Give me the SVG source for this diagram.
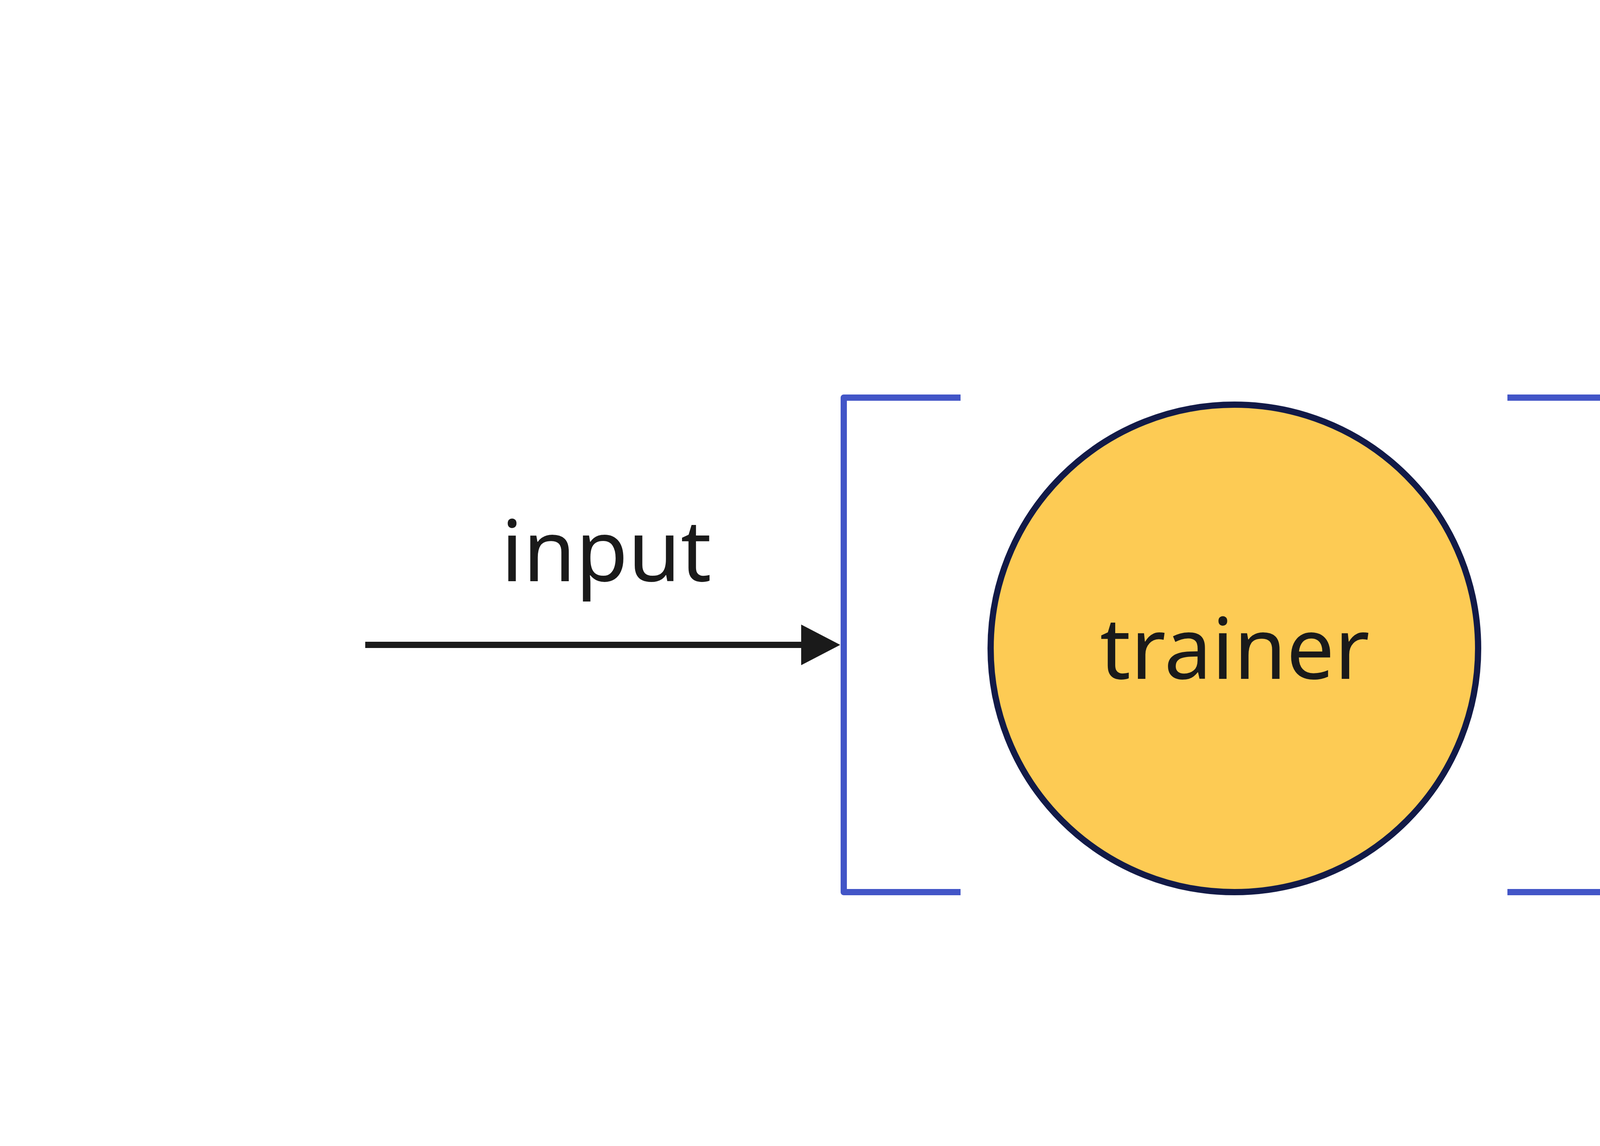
<svg xmlns="http://www.w3.org/2000/svg" width="6184" height="2934" viewBox="0 0 6184 2934">
<style>
.lbl{font-family:"Noto Sans","Open Sans","DejaVu Sans",sans-serif;font-size:218px;fill:#1a1a1a;text-anchor:middle}
.br{fill:none;stroke:#4255C7;stroke-width:16;stroke-linejoin:round}
.edge{stroke:#1a1a1a;stroke-width:16;fill:none}
.head{fill:#1a1a1a}
</style>
<rect x="0" y="0" width="6184" height="2934" fill="#ffffff"/>
<g id="bracket-left">
<path class="br" d="M2459 1018 H2160 V2284 H2459"/>
</g>
<g id="bracket-right">
<path class="br" d="M3859 1018 H4160 V2284 H3859"/>
</g>
<g id="trainer">
<circle cx="3160" cy="1660" r="624" fill="#FDCB54" stroke="#121A47" stroke-width="16"/>
<text class="lbl" x="3161" y="1738">trainer</text>
</g>
<g id="connectors">
<g id="edge-input">
<line class="edge" x1="935" y1="1651" x2="2055" y2="1651"/>
<polygon class="head" points="2051,1599 2151,1651 2051,1703"/>
<text class="lbl" x="1552" y="1488">input</text>
</g>
<g id="edge-output">
<line class="edge" x1="4152" y1="1635" x2="5370" y2="1635"/>
<polygon class="head" points="5366,1583 5468,1635 5366,1687"/>
<text class="lbl" x="4840" y="1455">output</text>
</g>
</g>
</svg>
